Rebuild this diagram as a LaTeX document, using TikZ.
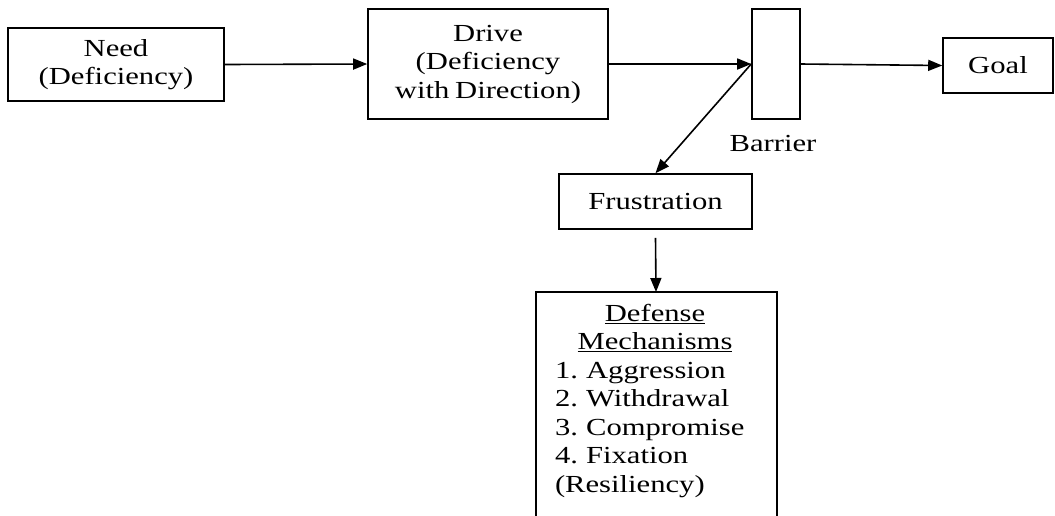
\documentclass[tikz,border=0pt]{standalone}
\usepackage{fontspec}
\setmainfont{Liberation Serif}[FakeStretch=1.25,WordSpace=0.75]
\usetikzlibrary{arrows.meta}
\frenchspacing
\begin{document}
\begin{tikzpicture}[x=1pt,y=-1pt,
  every node/.style={font=\fontsize{24.5}{28.5}\selectfont, inner sep=0pt, align=center},
  box/.style={draw, line width=1.6pt, rectangle},
  conn/.style={line width=1.6pt, -{Triangle[length=14pt,width=11pt]}}]
\useasboundingbox (0,0) rectangle (1055,515);
\node[box, minimum width=216pt, minimum height=73pt] (need) at (116,64.5) {Need\\(Deficiency)};
\node[box, minimum width=240pt, minimum height=110pt] (drive) at (488,64) {Drive\\(Deficiency\\with Direction)};
\node[box, minimum width=48pt, minimum height=110pt] (barrier) at (776,64) {};
\node (barlabel) at (773,144) {Barrier};
\node[box, minimum width=110pt, minimum height=55pt] (goal) at (998,65.5) {Goal};
\node[box, minimum width=193pt, minimum height=55pt] (frus) at (655.5,201.5) {Frustration};
\coordinate (deftop) at (656,292);
\node[text width=200pt, anchor=north, align=left] (defense) at (655,304) {\centering\underline{Defense}\\\underline{Mechanisms}\par\raggedright
1. Aggression\\2. Withdrawal\\3. Compromise\\4. Fixation\\(Resiliency)};
\draw[line width=1.6pt] (536,516) |- (777,292) -- (777,516);
\draw[conn] (need.east) -- (drive.west);
\draw[conn] (drive.east) -- (barrier.west);
\draw[conn] (barrier.east) -- (goal.west);
\draw[conn] (barrier.west) -- (frus.north);
\draw[conn] ([yshift=-8pt]frus.south) -- (deftop);
\end{tikzpicture}
\end{document}
